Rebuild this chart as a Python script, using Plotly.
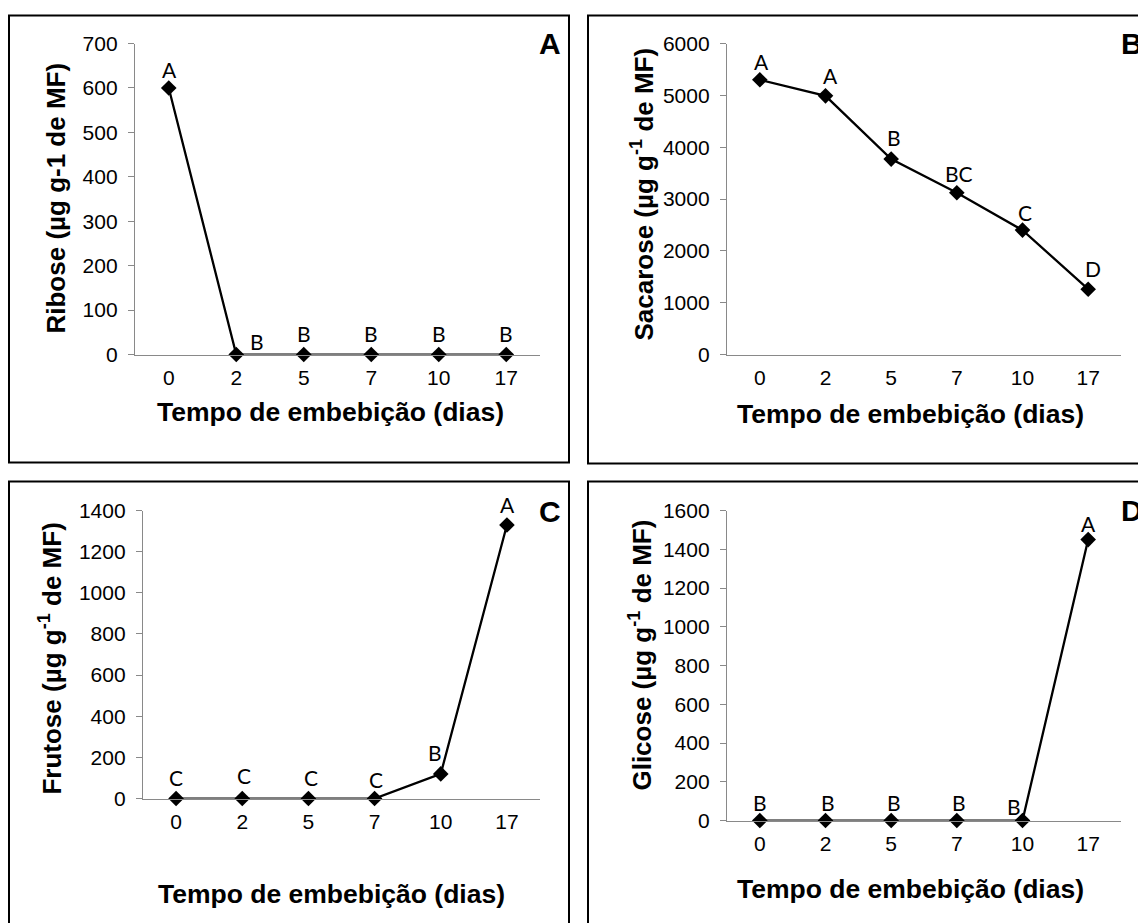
import plotly.graph_objects as go

# Imbibition time (days) and sugar contents (µg g-1 fresh mass)
dias = ["0", "2", "5", "7", "10", "17"]
ribose = [600, 0, 0, 0, 0, 0]
sacarose = [5300, 4990, 3770, 3120, 2400, 1260]
frutose = [0, 0, 0, 0, 120, 1330]
glicose = [0, 0, 0, 0, 0, 1450]

# Letters from the mean comparison test
letras_ribose = ["A", "B", "B", "B", "B", "B"]
letras_sacarose = ["A", "A", "B", "BC", "C", "D"]
letras_frutose = ["C", "C", "C", "C", "B", "A"]
letras_glicose = ["B", "B", "B", "B", "B", "A"]

W, H = 1138, 923
# vertical page calibration (page offset / scale of the rendered sheet)
Y0, YK = 11.5, 0.975


def px(x):
    return x / W


def py(y):
    return 1 - ((y - Y0) / YK) / H


panels = [
    dict(vals=ribose, letters=letras_ribose, rng=[0, 700], dtick=100,
         xd=(135, 540), yd=(354, 43),
         ytitle="Ribose (µg g-1 de MF)", xt=(330, 411), yt=(56, 198),
         tag="A", tagpos=(550, 43), tagx="center",
         offs=[(1, 18), (21, 13), (0, 21), (0, 21), (0, 21), (0, 21)]),
    dict(vals=sacarose, letters=letras_sacarose, rng=[0, 6000], dtick=1000,
         xd=(727, 1121), yd=(354, 43),
         ytitle="Sacarose (µg g<sup>-1</sup> de MF)", xt=(910, 413), yt=(643, 194),
         tag="B", tagpos=(1119, 43), tagx="left",
         offs=[(2, 18), (5, 20), (3, 22), (2, 19), (2, 18), (5, 21)]),
    dict(vals=frutose, letters=letras_frutose, rng=[0, 1400], dtick=200,
         xd=(143, 540), yd=(798, 510),
         ytitle="Frutose (µg g<sup>-1</sup> de MF)", xt=(331, 893), yt=(51, 658),
         tag="C", tagpos=(550, 511), tagx="center",
         offs=[(0, 21), (2, 23), (3, 21), (1, 19), (-6, 21), (1, 20)]),
    dict(vals=glicose, letters=letras_glicose, rng=[0, 1600], dtick=200,
         xd=(727, 1121), yd=(820, 510),
         ytitle="Glicose (µg g<sup>-1</sup> de MF)", xt=(910, 888), yt=(641, 655),
         tag="D", tagpos=(1119, 510), tagx="left",
         offs=[(0, 18), (2, 18), (3, 18), (2, 18), (-9, 14), (0, 16)]),
]

TXT = "Liberation Sans, Arial, sans-serif"
LET = "Lato, Open Sans, sans-serif"
AXC = "#898989"

fig = go.Figure()
annotations = []
shapes = []

for i, p in enumerate(panels, start=1):
    xa = "x" if i == 1 else f"x{i}"
    ya = "y" if i == 1 else f"y{i}"
    fig.add_trace(go.Scatter(
        x=dias, y=p["vals"], xaxis=xa, yaxis=ya, mode="lines+markers",
        line=dict(color="black", width=2.3),
        marker=dict(symbol="diamond", size=12, color="black"),
        showlegend=False, cliponaxis=False,
    ))
    key = "" if i == 1 else str(i)
    fig.update_layout(**{
        f"xaxis{key}": dict(
            domain=[px(p["xd"][0]), px(p["xd"][1])], anchor=ya,
            type="category", range=[-0.5, 5.5],
            showline=True, linecolor=AXC, linewidth=1.3,
            ticks="", showgrid=False, zeroline=False,
            tickfont=dict(family=TXT, size=21, color="black"),
            ticklabelstandoff=4, fixedrange=True,
        ),
        f"yaxis{key}": dict(
            domain=[py(p["yd"][0]), py(p["yd"][1])], anchor=xa,
            range=p["rng"], dtick=p["dtick"], tick0=0,
            showline=True, linecolor=AXC, linewidth=1.3,
            ticks="outside", ticklen=6, tickcolor=AXC, tickwidth=1.3,
            showgrid=False, zeroline=False,
            tickfont=dict(family=TXT, size=21, color="black"),
            ticklabelstandoff=6, fixedrange=True,
        ),
    })
    # letters above each point (category index as x position)
    for k, (v, l, (dx, dy)) in enumerate(zip(p["vals"], p["letters"], p["offs"])):
        annotations.append(dict(
            x=k, y=v, xref=xa, yref=ya, text=l, showarrow=False,
            xshift=dx, yshift=dy, xanchor="center", yanchor="middle",
            font=dict(family=LET, size=21, color="black"),
        ))
    # axis titles
    annotations.append(dict(
        x=px(p["xt"][0]), y=py(p["xt"][1]), xref="paper", yref="paper",
        text="<b>Tempo de embebição (dias)</b>", showarrow=False,
        xanchor="center", yanchor="middle",
        font=dict(family=TXT, size=26.5, color="black"),
    ))
    annotations.append(dict(
        x=px(p["yt"][0]), y=py(p["yt"][1]), xref="paper", yref="paper",
        text=f"<b>{p['ytitle']}</b>", showarrow=False, textangle=-90,
        xanchor="center", yanchor="middle",
        font=dict(family=TXT, size=26, color="black"),
    ))
    # panel tag
    annotations.append(dict(
        x=px(p["tagpos"][0]), y=py(p["tagpos"][1]), xref="paper", yref="paper",
        text=f"<b>{p['tag']}</b>", showarrow=False,
        xanchor=p["tagx"], yanchor="middle",
        font=dict(family=TXT, size=30, color="black"),
    ))

# frames around each panel
for (x0, y0, x1, y1) in [(9, 15, 569, 462), (588, 15, 1160, 463),
                         (9, 481, 569, 950), (588, 481, 1160, 950)]:
    shapes.append(dict(
        type="rect", xref="paper", yref="paper",
        x0=px(x0), x1=px(x1), y0=py(y1), y1=py(y0),
        line=dict(color="black", width=2), fillcolor="rgba(0,0,0,0)",
        layer="below",
    ))

fig.update_layout(
    width=W, height=H, margin=dict(l=0, r=0, t=0, b=0),
    paper_bgcolor="white", plot_bgcolor="white",
    annotations=annotations, shapes=shapes,
)

fig.write_html("out.html", config={"displayModeBar": False})
